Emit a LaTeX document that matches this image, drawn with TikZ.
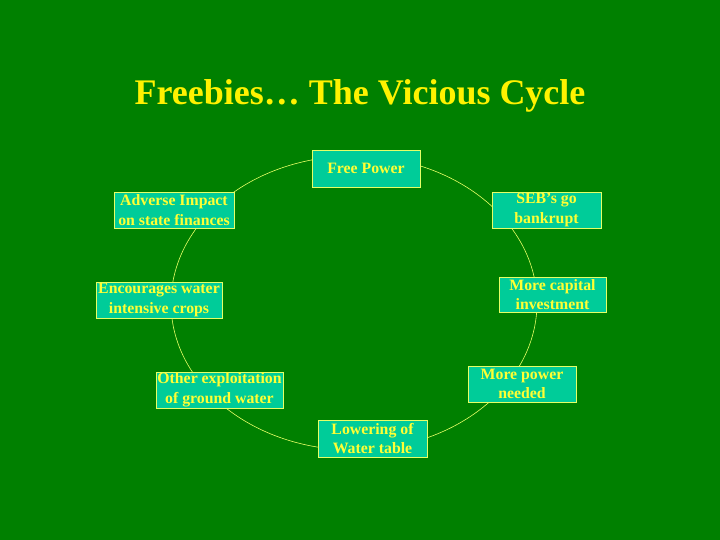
\documentclass[tikz,border=0pt]{standalone}
\usepackage{fontspec}
\setmainfont{Liberation Serif}
\usepackage{tikz}
\usetikzlibrary{positioning}
\definecolor{slidegreen}{HTML}{008000}
\definecolor{boxfill}{HTML}{00CC99}
\definecolor{boxline}{HTML}{E6FF66}
\definecolor{textyellow}{HTML}{FFFF33}

\begin{document}
\begin{tikzpicture}[x=1pt, y=-1pt,
    cyclebox/.style={draw=boxline, fill=boxfill, text=textyellow, inner sep=0pt,
      align=center, minimum height=36pt, font=\bfseries\fontsize{15.8}{19.5}\selectfont}]
  % Hintergrund
  \fill[slidegreen] (0,0) rectangle (720,540);
  \useasboundingbox (0,0) rectangle (720,540);

  % Titel
  \node[text=yellow, font=\bfseries\fontsize{36}{42}\selectfont] (title) at (360,96) {Freebies\dots\ The Vicious Cycle};

  % Kreislauf
  \draw[boxline, line width=0.6pt] (354,303) ellipse [x radius=183, y radius=147];

  % Stationen
  \node[cyclebox, minimum width=108pt, minimum height=37pt] (free) at (366,168.5) {Free Power};
  \node[cyclebox, minimum width=109pt] (seb) at (546.5,210) {SEB’s go\\bankrupt};
  \node[cyclebox, minimum width=107pt, minimum height=35pt] (capital) at (552.5,294.5) {More capital\\investment};
  \node[cyclebox, minimum width=108pt] (morepower) at (522,384) {More power\\needed};
  \node[cyclebox, minimum width=109pt, minimum height=37pt] (lowering) at (372.5,438.5) {Lowering of\\Water table};
  \node[cyclebox, minimum width=127pt] (other) at (219.5,390) {Other exploitation\\of ground water};
  \node[cyclebox, minimum width=126pt] (encourages) at (159,300) {Encourages water\\intensive crops};
  \node[cyclebox, minimum width=120pt] (adverse) at (174,210) {Adverse Impact\\on state finances};
\end{tikzpicture}
\end{document}
